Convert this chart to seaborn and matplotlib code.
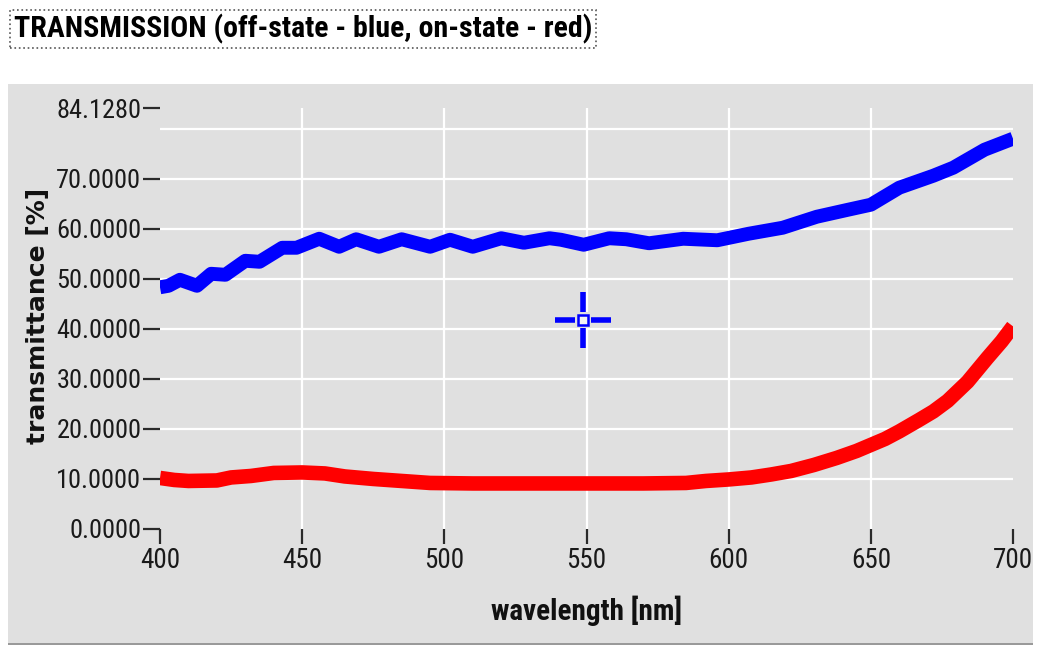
import pandas as pd
import matplotlib.pyplot as plt
import seaborn as sns
from matplotlib.patches import Rectangle

# values: wavelength [nm] / transmittance [%]
wl_off = [400, 403, 407, 413, 418, 423, 430, 435, 443, 448, 456, 463, 469, 477, 485,
          495, 502, 510, 520, 528, 537, 541, 549, 558, 564, 572, 584, 596, 607, 619,
          631, 642, 650, 660, 672, 679, 690, 700]
t_off = [48.3, 48.6, 49.8, 48.6, 51.0, 50.8, 53.6, 53.4, 56.2, 56.2, 58.0, 56.4, 57.9, 56.4, 57.9,
         56.4, 57.8, 56.4, 58.1, 57.2, 58.1, 57.8, 56.8, 58.1, 57.9, 57.1, 58.0, 57.7, 59.0, 60.2,
         62.4, 63.8, 64.8, 68.2, 70.6, 72.2, 75.8, 78.0]

wl_on = [400, 405, 410, 420, 425, 432, 440, 450, 458, 465, 475, 485, 495, 510, 530,
         550, 570, 585, 592, 600, 608, 615, 622, 630, 638, 645, 650, 655, 660, 667,
         672, 677, 684, 691, 696, 700]
t_on = [10.2, 9.8, 9.6, 9.7, 10.3, 10.6, 11.2, 11.3, 11.1, 10.5, 10.0, 9.6, 9.2, 9.1, 9.1,
        9.1, 9.1, 9.2, 9.6, 9.9, 10.3, 10.9, 11.6, 12.8, 14.2, 15.6, 16.8, 18.0, 19.5, 21.8,
        23.5, 25.6, 29.4, 34.2, 37.5, 40.5]

# cursor position shown on the plot
cursor_wl = 548.8
cursor_t = 41.8

x_ticks = [400, 450, 500, 550, 600, 650, 700]
y_ticks = [0, 10, 20, 30, 40, 50, 60, 70, 84.128]
y_ticklabels = ["0.0000", "10.0000", "20.0000", "30.0000", "40.0000",
                "50.0000", "60.0000", "70.0000", "84.1280"]
x_grid = [450, 500, 550, 600, 650]
y_grid = [10, 20, 30, 40, 50, 60, 70, 80]

title = "TRANSMISSION (off-state - blue, on-state - red)"

df_off = pd.DataFrame({"wavelength": wl_off, "transmittance": t_off})
df_on = pd.DataFrame({"wavelength": wl_on, "transmittance": t_on})

narrow = ["Roboto Condensed", "DejaVu Sans"]
panel = "#E0E0E0"

fig = plt.figure(figsize=(10.39, 6.47), dpi=100)
fig.patches.append(Rectangle((8/1039, 1-643/647), 1025/1039, 559/647,
                             transform=fig.transFigure, facecolor=panel,
                             edgecolor="none", zorder=-2))
fig.patches.append(Rectangle((8/1039, 1-645/647), 1025/1039, 2/647,
                             transform=fig.transFigure, facecolor="#9a9a9a",
                             edgecolor="none", zorder=-2))

ax = fig.add_axes([160/1039, 1-529/647, 853/1039, 421/647])
ax.set_facecolor(panel)
for s in ax.spines.values():
    s.set_visible(False)

for g in x_grid:
    ax.axvline(g, color="white", lw=1.6, zorder=1)
for g in y_grid:
    ax.axhline(g, color="white", lw=1.6, zorder=1)

sns.lineplot(data=df_off, x="wavelength", y="transmittance", color="#0000FF",
             lw=10, estimator=None, sort=False, ax=ax, zorder=3)
sns.lineplot(data=df_on, x="wavelength", y="transmittance", color="#FF0000",
             lw=10.5, estimator=None, sort=False, ax=ax, zorder=3)
for line in ax.lines:
    line.set_solid_capstyle("butt")
    line.set_solid_joinstyle("round")

# cursor cross
ax.plot([cursor_wl], [cursor_t], marker="+", ms=40, mew=4, color="#0000FF", zorder=4)
ax.plot([cursor_wl], [cursor_t], marker="s", ms=11, mew=0, color=panel, zorder=5)
ax.plot([cursor_wl], [cursor_t], marker="s", ms=7, mew=1.8, mfc="#f4f4f4",
        mec="#0000FF", zorder=6)

ax.set_xlim(400, 700)
ax.set_ylim(0, 84.128)
ax.set_xticks(x_ticks)
ax.set_xticklabels([str(v) for v in x_ticks])
ax.set_yticks(y_ticks)
ax.set_yticklabels(y_ticklabels)
ax.tick_params(axis="y", direction="out", length=12, width=1.6, color="#2a2a2a",
               pad=1.5, labelsize=19, labelcolor="#1a1a1a")
ax.tick_params(axis="x", direction="out", length=11, width=1.6, color="#2a2a2a",
               pad=2, labelsize=19.5, labelcolor="#1a1a1a")
for lab in ax.get_xticklabels() + ax.get_yticklabels():
    lab.set_family(narrow)

ax.set_xlabel("wavelength [nm]", family=narrow, fontweight="bold", fontsize=21,
              color="#111111")
ax.xaxis.set_label_coords(0.5, -0.158)
ax.set_ylabel("transmittance [%]", family="DejaVu Sans", fontweight="bold",
              fontsize=18, color="#111111")
ax.yaxis.set_label_coords(-0.129, 0.506)

fig.text(14/1039, 1-29/647, title, ha="left", va="center", family=narrow,
         fontweight="bold", fontsize=21.5, color="black",
         bbox=dict(boxstyle="square,pad=0.12", facecolor="white", edgecolor="#555555",
                   linestyle=":", linewidth=1.2))

fig.savefig("out.png", dpi=100)
